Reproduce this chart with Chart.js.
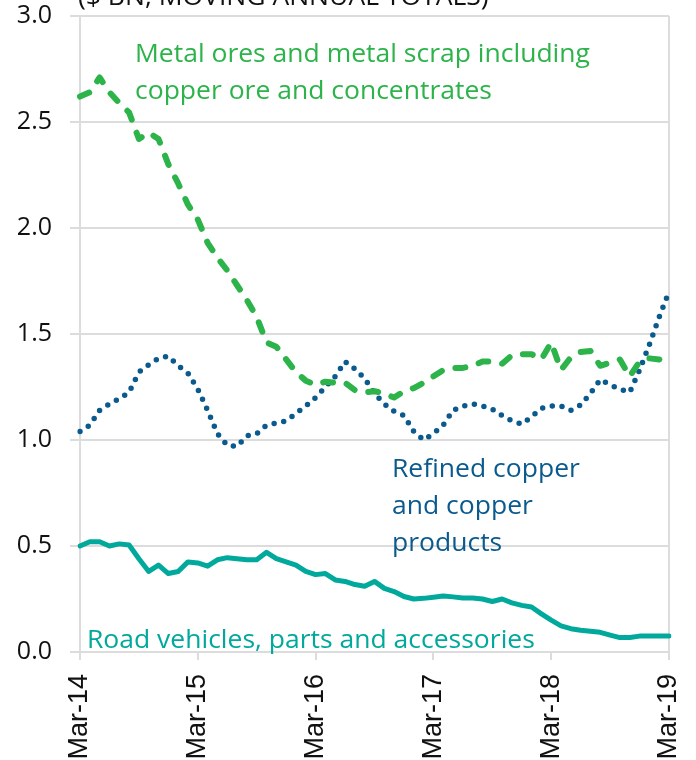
<!DOCTYPE html>
<html>
<head>
<meta charset="utf-8">
<script src="https://cdn.jsdelivr.net/npm/chart.js@4.4.1/dist/chart.umd.min.js"></script>
<style>
html,body{margin:0;padding:0;background:#fff;}
#wrap{width:696px;height:760px;position:relative;overflow:hidden;}
</style>
</head>
<body>
<div id="wrap"><canvas id="c" width="696" height="760"></canvas></div>
<script>
const months = [
 "Mar-14","Apr-14","May-14","Jun-14","Jul-14","Aug-14","Sep-14","Oct-14","Nov-14","Dec-14","Jan-15","Feb-15",
 "Mar-15","Apr-15","May-15","Jun-15","Jul-15","Aug-15","Sep-15","Oct-15","Nov-15","Dec-15","Jan-16","Feb-16",
 "Mar-16","Apr-16","May-16","Jun-16","Jul-16","Aug-16","Sep-16","Oct-16","Nov-16","Dec-16","Jan-17","Feb-17",
 "Mar-17","Apr-17","May-17","Jun-17","Jul-17","Aug-17","Sep-17","Oct-17","Nov-17","Dec-17","Jan-18","Feb-18",
 "Mar-18","Apr-18","May-18","Jun-18","Jul-18","Aug-18","Sep-18","Oct-18","Nov-18","Dec-18","Jan-19","Feb-19",
 "Mar-19"
];
const xTickLabels = ["Mar-14","Mar-15","Mar-16","Mar-17","Mar-18","Mar-19"];
const yTickValues = [0, 0.5, 1.0, 1.5, 2.0, 2.5, 3.0];

const metalOres = [2.62,2.64,2.71,2.64,2.59,2.545,2.42,2.45,2.42,2.30,2.21,2.11,2.04,1.93,1.86,1.80,1.73,1.66,1.58,1.46,1.44,1.38,1.32,1.28,1.26,
 1.275,1.27,1.27,1.235,1.225,1.23,1.22,1.20,1.23,1.245,1.27,1.30,1.33,1.34,1.34,1.35,1.37,1.37,1.36,1.40,1.405,1.405,1.38,1.46,1.33,1.39,
 1.415,1.42,1.35,1.365,1.38,1.30,1.37,1.385,1.38,1.37];
const refinedCopper = [1.04,1.07,1.14,1.17,1.195,1.225,1.32,1.355,1.385,1.395,1.35,1.315,1.24,1.14,1.03,0.975,0.97,1.02,1.03,1.07,1.08,1.09,1.125,1.16,1.20,
 1.25,1.30,1.37,1.335,1.29,1.22,1.17,1.135,1.115,1.04,1.00,1.03,1.07,1.14,1.16,1.17,1.16,1.145,1.115,1.09,1.075,1.11,1.15,1.16,1.16,1.14,
 1.165,1.22,1.285,1.26,1.24,1.225,1.33,1.45,1.58,1.70];
const roadVehicles = [0.50,0.52,0.52,0.50,0.51,0.505,0.44,0.38,0.41,0.37,0.38,0.425,0.42,0.405,0.435,0.445,0.44,0.435,0.435,0.47,0.44,0.425,0.41,0.38,0.365,
 0.37,0.34,0.333,0.318,0.31,0.333,0.30,0.285,0.262,0.25,0.253,0.258,0.264,0.26,0.255,0.255,0.25,0.238,0.25,0.232,0.22,0.212,0.18,0.15,0.123,0.11,
 0.103,0.098,0.093,0.08,0.068,0.068,0.075,0.075,0.075,0.075];

const GREEN = '#2cb34a', BLUE = '#0a5a8e', TEAL = '#00a99c', GRID = '#dcdcdc';

const notes = [
  {lines:["Metal ores and metal scrap including","copper ore and concentrates"], x:135, y:61.5, color:GREEN},
  {lines:["Refined copper","and copper","products"], x:392, y:477, color:BLUE},
  {lines:["Road vehicles, parts and accessories"], x:87, y:648, color:TEAL},
  {lines:["($ BN, MOVING ANNUAL TOTALS)"], x:78, y:5, color:'#111'}
];
const STRETCH = 1.06;

const textPlugin = {
  id:'texts',
  afterDatasetsDraw(chart){
    const ctx = chart.ctx;
    notes.forEach(n=>{
      ctx.save();
      ctx.font = '25px "Open Sans"';
      ctx.textBaseline = 'alphabetic';
      ctx.textAlign = 'left';
      ctx.fillStyle = n.color;
      ctx.translate(n.x, 0);
      ctx.scale(STRETCH, 1);
      n.lines.forEach((t,i)=>ctx.fillText(t, 0, n.y + i*37));
      ctx.restore();
    });
  }
};

new Chart(document.getElementById('c'), {
  type:'line',
  data:{
    labels: months,
    datasets:[
      {label:'Metal ores', data:metalOres, borderColor:GREEN, borderWidth:6, borderDash:[10,14], borderCapStyle:'round', borderJoinStyle:'round', pointRadius:0, tension:0},
      {label:'Refined copper', data:refinedCopper, borderColor:BLUE, borderWidth:5.5, borderDash:[0,9.8], borderCapStyle:'round', borderJoinStyle:'round', pointRadius:0, tension:0},
      {label:'Road vehicles', data:roadVehicles, borderColor:TEAL, borderWidth:5, borderCapStyle:'round', borderJoinStyle:'round', pointRadius:0, tension:0}
    ]
  },
  options:{
    responsive:false,
    animation:false,
    devicePixelRatio:1,
    layout:{padding:{top:16, right:27, left:0, bottom:0}},
    plugins:{legend:{display:false}, tooltip:{enabled:false}, title:{display:false}},
    scales:{
      x:{
        offset:false,
        afterFit(s){ s.height = 108; s.paddingLeft = 0; s.paddingRight = 0; },
        grid:{
          drawOnChartArea:true,
          color:(c)=> (c.index === months.length-1) ? GRID : 'rgba(0,0,0,0)',
          tickColor:(c)=> xTickLabels.includes(months[c.index]) ? GRID : 'rgba(0,0,0,0)',
          lineWidth:2,
          tickLength:8
        },
        border:{display:true, color:GRID, width:2},
        ticks:{
          autoSkip:false, maxRotation:90, minRotation:90, padding:14,
          color:'#111',
          font:{family:'"Liberation Sans"', size:27},
          callback:(v,i)=> xTickLabels.includes(months[i]) ? months[i] : ''
        }
      },
      y:{
        min:0, max:3,
        afterFit(s){ s.width = 80; s.paddingTop = 0; s.paddingBottom = 0; },
        afterBuildTicks(s){ s.ticks = yTickValues.map(v=>({value:v})); },
        grid:{color:GRID, lineWidth:2, tickLength:10},
        border:{display:true, color:GRID, width:2},
        ticks:{
          padding:18, color:'#111',
          font:{family:'"Open Sans"', size:25},
          callback:(v)=> Number(v).toFixed(1)
        }
      }
    }
  },
  plugins:[textPlugin]
});
</script>
</body>
</html>
